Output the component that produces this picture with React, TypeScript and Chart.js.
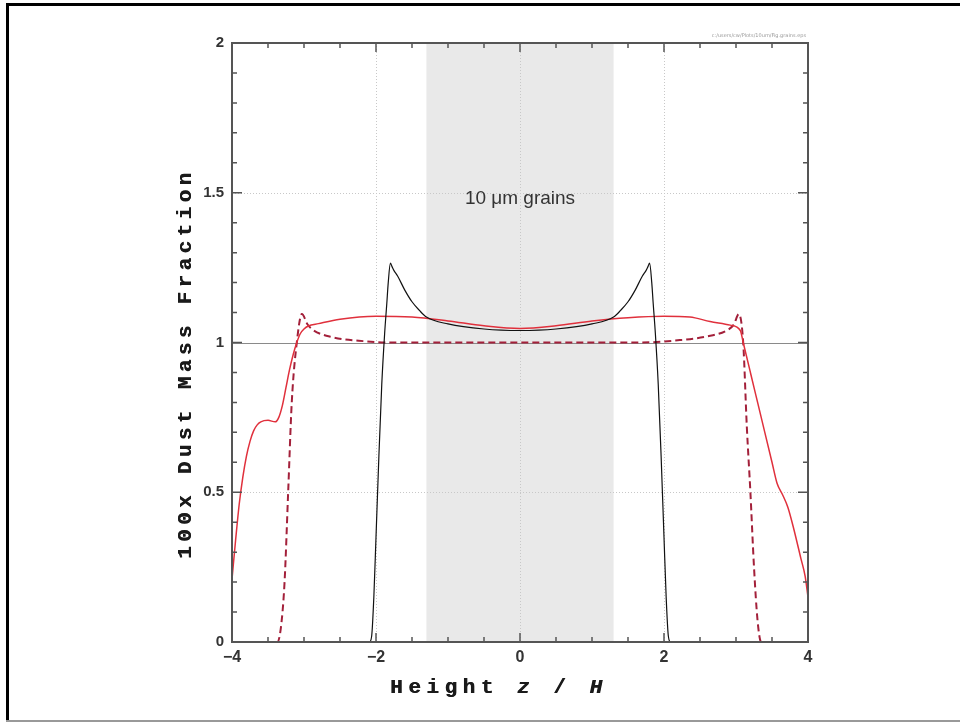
import React, { useEffect, useRef } from "react";
import { Chart, registerables } from "chart.js";

Chart.register(...registerables);

// Black solid curve
const blackX = [-4, -2.09, -2.06, -2.03, -2.0, -1.96, -1.92, -1.88, -1.85, -1.83, -1.8, -1.78, -1.75, -1.7, -1.6, -1.5, -1.4, -1.3, -1.0, -0.5, 0, 0.5, 1.0, 1.3, 1.4, 1.5, 1.6, 1.7, 1.75, 1.78, 1.8, 1.83, 1.85, 1.88, 1.92, 1.96, 2.0, 2.03, 2.06, 2.09, 4];
const blackY = [0, 0, 0.02, 0.15, 0.35, 0.62, 0.86, 1.03, 1.13, 1.2, 1.265, 1.255, 1.24, 1.222, 1.175, 1.136, 1.108, 1.085, 1.062, 1.045, 1.04, 1.045, 1.062, 1.085, 1.108, 1.136, 1.175, 1.222, 1.24, 1.255, 1.265, 1.2, 1.13, 1.03, 0.86, 0.62, 0.35, 0.15, 0.02, 0, 0];

// Red solid curve
const redX = [-4.0, -3.95, -3.9, -3.85, -3.8, -3.75, -3.7, -3.65, -3.6, -3.5, -3.4, -3.35, -3.3, -3.25, -3.2, -3.15, -3.1, -3.05, -3.0, -2.94, -2.8, -2.5, -2.0, -1.5, -1.0, -0.5, 0, 0.5, 1.0, 1.5, 2.0, 2.36, 2.64, 2.92, 3.06, 3.1, 3.2, 3.3, 3.4, 3.5, 3.57, 3.65, 3.72, 3.8, 3.9, 3.96, 4.0];
const redY = [0.21, 0.34, 0.46, 0.55, 0.62, 0.67, 0.705, 0.725, 0.735, 0.74, 0.735, 0.75, 0.79, 0.85, 0.91, 0.96, 1.0, 1.03, 1.045, 1.055, 1.063, 1.078, 1.088, 1.085, 1.072, 1.056, 1.047, 1.056, 1.072, 1.083, 1.088, 1.085, 1.07, 1.058, 1.04, 1.0, 0.9, 0.8, 0.7, 0.6, 0.53, 0.49, 0.45, 0.38, 0.28, 0.22, 0.15];

// Red dashed curve
const dashX = [-4, -3.37, -3.32, -3.27, -3.22, -3.17, -3.1, -3.03, -2.95, -2.87, -2.61, -2.24, -1.78, -1.0, 0, 1.0, 1.67, 2.22, 2.59, 2.87, 2.97, 3.04, 3.1, 3.15, 3.2, 3.25, 3.3, 3.35, 4];
const dashY = [0, 0, 0.05, 0.2, 0.5, 0.8, 1.0, 1.095, 1.06, 1.041, 1.018, 1.006, 1.0, 1.0, 1.0, 1.0, 1.0, 1.008, 1.02, 1.04, 1.06, 1.095, 1.0, 0.72, 0.5, 0.25, 0.07, 0, 0];

const xTickLabels = [-4, -2, 0, 2, 4];
const yTickLabels = [0, 0.5, 1, 1.5, 2];
const bandRange = [-1.3, 1.3];
const gridX = [-2, 0, 2];
const gridY = [0.5, 1.5];
const refLine = 1;
const annotationText = "10 \u03bcm grains";
const fileLabel = "c:/users/cw/Plots/10um/Fig.grains.eps";
const xTitle = "Height z / H";
const yTitle = "100x Dust Mass Fraction";

const toPts = (xs: number[], ys: number[]) => xs.map((x, i) => ({ x, y: ys[i] }));

const TITLE_FONT = 'bold 21px "Liberation Mono", "DejaVu Sans Mono", monospace';
const TITLE_FONT_IT = 'bold italic 21px "Liberation Mono", "DejaVu Sans Mono", monospace';

const decorPlugin = {
  id: "decor",
  beforeDatasetsDraw(chart: any) {
    const { ctx, chartArea: a, scales } = chart;
    const xs = scales.x, ys = scales.y;
    ctx.save();
    const bx0 = xs.getPixelForValue(bandRange[0]);
    const bx1 = xs.getPixelForValue(bandRange[1]);
    ctx.fillStyle = "#e9e9e9";
    ctx.fillRect(bx0, a.top, bx1 - bx0, a.bottom - a.top);
    ctx.strokeStyle = "#c8c8c8";
    ctx.lineWidth = 1;
    ctx.setLineDash([1, 2]);
    gridX.forEach((v) => {
      const p = Math.round(xs.getPixelForValue(v)) + 0.5;
      ctx.beginPath();
      ctx.moveTo(p, a.top);
      ctx.lineTo(p, a.bottom);
      ctx.stroke();
    });
    gridY.forEach((v) => {
      const p = Math.round(ys.getPixelForValue(v)) + 0.5;
      ctx.beginPath();
      ctx.moveTo(a.left, p);
      ctx.lineTo(a.right, p);
      ctx.stroke();
    });
    ctx.setLineDash([]);
    ctx.strokeStyle = "#8a8a8a";
    const ry = Math.round(ys.getPixelForValue(refLine)) + 0.5;
    ctx.beginPath();
    ctx.moveTo(a.left, ry);
    ctx.lineTo(a.right, ry);
    ctx.stroke();
    ctx.fillStyle = "#333";
    ctx.font = '19px "Liberation Sans", Arial, sans-serif';
    ctx.textAlign = "center";
    ctx.textBaseline = "middle";
    ctx.fillText(annotationText, xs.getPixelForValue(0), ys.getPixelForValue(1.48));
    ctx.restore();
  },
  afterDatasetsDraw(chart: any) {
    const { ctx, chartArea: a, scales } = chart;
    const xs = scales.x, ys = scales.y;
    ctx.save();
    ctx.strokeStyle = "#555";
    ctx.lineWidth = 2;
    ctx.strokeRect(a.left, a.top, a.right - a.left, a.bottom - a.top);
    ctx.lineWidth = 1.5;
    for (let i = 0; i <= 16; i++) {
      const v = -4 + i * 0.5;
      const p = xs.getPixelForValue(v);
      const len = i % 4 === 0 ? 9 : 5;
      ctx.beginPath();
      ctx.moveTo(p, a.bottom);
      ctx.lineTo(p, a.bottom - len);
      ctx.moveTo(p, a.top);
      ctx.lineTo(p, a.top + len);
      ctx.stroke();
    }
    for (let i = 0; i <= 20; i++) {
      const v = i * 0.1;
      const p = ys.getPixelForValue(v);
      const len = i % 5 === 0 ? 10 : 5;
      ctx.beginPath();
      ctx.moveTo(a.left, p);
      ctx.lineTo(a.left + len, p);
      ctx.moveTo(a.right, p);
      ctx.lineTo(a.right - len, p);
      ctx.stroke();
    }
    ctx.fillStyle = "#999";
    ctx.font = '5px "DejaVu Sans"';
    ctx.textAlign = "right";
    ctx.textBaseline = "alphabetic";
    ctx.fillText(fileLabel, a.right - 2, a.top - 6);

    const drawSpaced = (text: string, cx: number, cy: number, span: number, rotate: boolean) => {
      ctx.save();
      ctx.translate(cx, cy);
      if (rotate) ctx.rotate(-Math.PI / 2);
      ctx.fillStyle = "#1a1a1a";
      ctx.textBaseline = "middle";
      ctx.textAlign = "left";
      ctx.font = TITLE_FONT;
      const chars = Array.from(text);
      const widths = chars.map((c) => ctx.measureText(c).width);
      const total = widths.reduce((s, w) => s + w, 0);
      const gap = (span - total) / (chars.length - 1);
      let x = -span / 2;
      chars.forEach((c, i) => {
        const italic = !rotate && (c === "z" || (c === "H" && i === chars.length - 1));
        ctx.font = italic ? TITLE_FONT_IT : TITLE_FONT;
        ctx.fillText(c, x, 0);
        ctx.fillText(c, x + 0.5, 0);
        x += widths[i] + gap;
      });
      ctx.restore();
    };
    drawSpaced(xTitle, 496, 688, 212, false);
    drawSpaced(yTitle, 186, 366, 386, true);

    ctx.fillStyle = "#000";
    ctx.fillRect(6, 3, 960 - 6, 3);
    ctx.fillRect(6, 3, 3, 719);
    ctx.fillStyle = "#999";
    ctx.fillRect(6, 720, 960 - 6, 2);
    ctx.restore();
  },
};

export default function App() {
  const ref = useRef<HTMLCanvasElement | null>(null);
  useEffect(() => {
    document.body.style.margin = "0";
    const canvas = ref.current!;
    const chart = new Chart(canvas, {
      type: "scatter",
      data: {
        datasets: [
          {
            data: toPts(blackX, blackY),
            showLine: true,
            borderColor: "#111",
            borderWidth: 1.2,
            pointRadius: 0,
            cubicInterpolationMode: "monotone",
          },
          {
            data: toPts(redX, redY),
            showLine: true,
            borderColor: "#e0303c",
            borderWidth: 1.5,
            pointRadius: 0,
            cubicInterpolationMode: "monotone",
          },
          {
            data: toPts(dashX, dashY),
            showLine: true,
            borderColor: "#a3203a",
            borderWidth: 2,
            borderDash: [7, 4],
            pointRadius: 0,
            cubicInterpolationMode: "monotone",
          },
        ] as any,
      },
      options: {
        animation: false,
        responsive: false,
        maintainAspectRatio: false,
        layout: { padding: { top: 43, right: 152, left: 0, bottom: 0 } },
        plugins: { legend: { display: false }, tooltip: { enabled: false } },
        scales: {
          x: {
            type: "linear",
            min: -4,
            max: 4,
            afterFit: (s: any) => { s.height = 81; },
            afterBuildTicks: (s: any) => { s.ticks = xTickLabels.map((v) => ({ value: v })); },
            grid: { display: false, drawTicks: false },
            border: { display: false },
            ticks: {
              padding: 6,
              color: "#333",
              font: { family: '"Liberation Sans", Arial, sans-serif', size: 16, weight: "bold" },
              callback: (v: any) => String(v).replace("-", "\u2212"),
            },
          },
          y: {
            type: "linear",
            min: 0,
            max: 2,
            afterFit: (s: any) => { s.width = 232; },
            afterBuildTicks: (s: any) => { s.ticks = yTickLabels.map((v) => ({ value: v })); },
            grid: { display: false, drawTicks: false },
            border: { display: false },
            ticks: {
              padding: 8,
              color: "#333",
              font: { family: '"Liberation Sans", Arial, sans-serif', size: 15, weight: "bold" },
              callback: (v: any) => String(v),
            },
          },
        },
      } as any,
      plugins: [decorPlugin],
    });
    return () => chart.destroy();
  }, []);
  return (
    <div style={{ position: "fixed", left: 0, top: 0, width: 960, height: 723, background: "#fff" }}>
      <canvas ref={ref} width={960} height={723} style={{ width: 960, height: 723, display: "block" }} />
    </div>
  );
}
